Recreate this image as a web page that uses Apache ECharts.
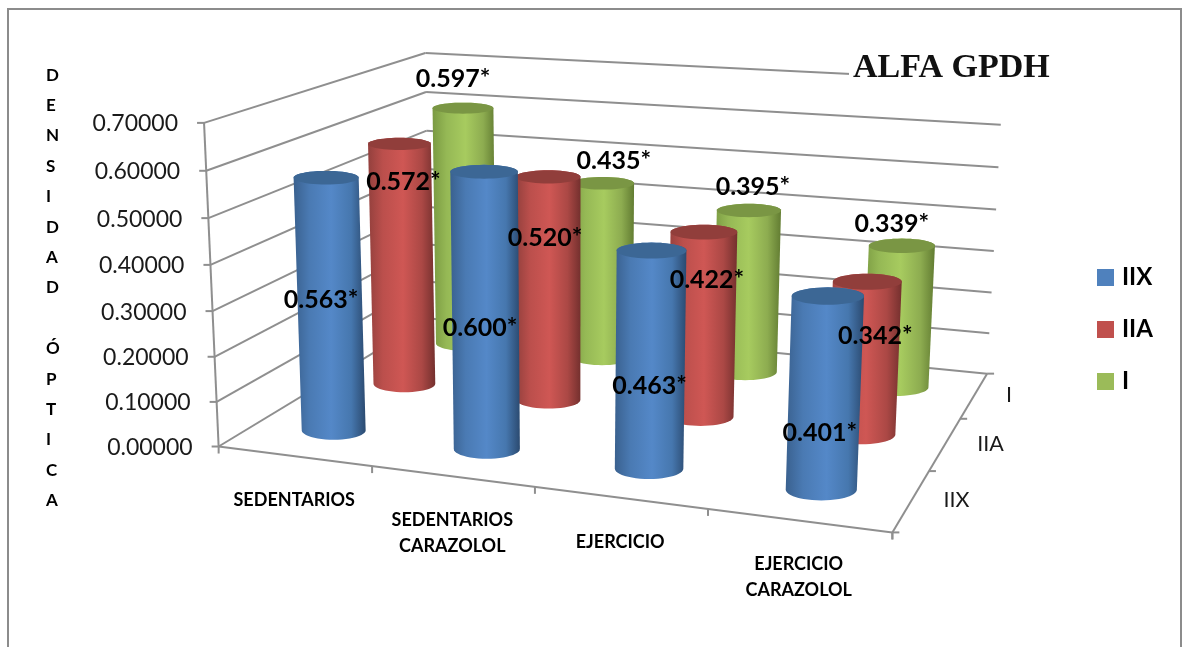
<!DOCTYPE html>
<html><head><meta charset="utf-8">
<style>html,body{margin:0;padding:0;background:#fff;overflow:hidden}#c{width:1183px;height:647px}</style>
<script src="https://cdn.jsdelivr.net/npm/echarts@6/dist/echarts.min.js"></script>
</head><body><div id="c"></div>
<script>
// ---- data ----
const categories = [['SEDENTARIOS'], ['SEDENTARIOS', 'CARAZOLOL'], ['EJERCICIO'], ['EJERCICIO', 'CARAZOLOL']];
const rows = ['IIX', 'IIA', 'I'];
const valuesIIX = [0.563, 0.600, 0.463, 0.401];
const valuesIIA = [0.572, 0.520, 0.422, 0.342];
const valuesI = [0.597, 0.435, 0.395, 0.339];
const yTicks = [0, 0.1, 0.2, 0.3, 0.4, 0.5, 0.6, 0.7];
const yTitle = 'DENSIDAD ÓPTICA';
const chartTitle = 'ALFA GPDH';

// ---- layout / style ----
const FONT = 'Lato, "Open Sans", sans-serif';
const GRID = { left: 100, top: 100, width: 800, height: 400 };
const YMAX = 0.7;
// camera calibration: [U, V, Zfraction, screenX, screenY] of the plot box's axis ticks
const Z = n => n / 7;
const CALIB = [
  [0, 0, Z(7), 202, 123], [0, 0, Z(6), 205, 171], [0, 0, Z(5), 208, 218], [0, 0, Z(4), 211, 265],
  [0, 0, Z(3), 213, 311], [0, 0, Z(2), 215, 356], [0, 0, Z(1), 218, 402], [0, 0, 0, 219, 445],
  [0, 1, Z(7), 427, 53], [0, 1, Z(6), 427, 92], [0, 1, Z(5), 427, 130], [0, 1, 0, 427, 320],
  [1, 1, Z(6), 1000, 125], [1, 1, Z(5), 998, 168], [1, 1, Z(4), 996, 209], [1, 1, Z(3), 994, 251],
  [1, 1, Z(2), 992, 292], [1, 1, Z(1), 990, 333], [1, 1, 0, 987, 373],
  [1, 0, 0, 892, 532], [0.25, 0, 0, 373, 467], [0.5, 0, 0, 535, 487], [0.75, 0, 0, 707, 510],
  [1, 1 / 3, 0, 930, 472], [1, 2 / 3, 0, 960, 418]
];
const RU = 0.21;
const DEPTH_CENTERS = [0.5, 1.5, 2.5];
const STYLES = {
  IIX: { color: '#4f81bd', top: '#3c6795', stops: ['#3a618f', '#4a7ab3', '#5488c8', '#4677ae', '#2b4a70'] },
  IIA: { color: '#c0504d', top: '#913e3b', stops: ['#93403d', '#bb4f4c', '#cf5754', '#ab4845', '#74302e'] },
  I:   { color: '#9bbb59', top: '#7a9644', stops: ['#7a9a42', '#95b855', '#a7cb5f', '#8dac50', '#627c32'] }
};
// label offset from the projected top-centre of each cylinder
const LABEL_OFFSET = {
  IIX: [[-5, 122], [-4, 156], [-2, 135], [-8, 137]],
  IIA: [[4, 38], [-3, 61], [3, 48], [8, 54]],
  I:   [[-10, -29], [11, -22], [4, -24], [-10, -22]]
};
const LINE = '#8f8f8f';

// ---- projection: least-squares pinhole camera ----
function solve(A, b) {
  const n = b.length, M = A.map((r, i) => r.concat(b[i]));
  for (let i = 0; i < n; i++) {
    let p = i;
    for (let k = i + 1; k < n; k++) if (Math.abs(M[k][i]) > Math.abs(M[p][i])) p = k;
    [M[i], M[p]] = [M[p], M[i]];
    for (let k = 0; k < n; k++) {
      if (k === i) continue;
      const f = M[k][i] / M[i][i];
      for (let j = i; j <= n; j++) M[k][j] -= f * M[i][j];
    }
  }
  return M.map((r, i) => r[n] / r[i]);
}
const dA = [], dB = [];
CALIB.forEach(([U, V, Zn, x, y]) => {
  dA.push([U, V, Zn, 1, 0, 0, 0, 0, -U * x, -V * x, -Zn * x]); dB.push(x);
  dA.push([0, 0, 0, 0, U, V, Zn, 1, -U * y, -V * y, -Zn * y]); dB.push(y);
});
const N = 11;
const AtA = [...Array(N).keys()].map(i => [...Array(N).keys()].map(j => dA.reduce((t, r) => t + r[i] * r[j], 0)));
const Atb = [...Array(N).keys()].map(i => dA.reduce((t, r, k) => t + r[i] * dB[k], 0));
const P = solve(AtA, Atb);
// u in category units (0..n), v in row units (0..m), zn = 0..1 fraction of the value axis
function project(u, v, zn) {
  const U = u / categories.length, V = v / rows.length;
  const w = P[8] * U + P[9] * V + P[10] * zn + 1;
  return [(P[0] * U + P[1] * V + P[2] * zn + P[3]) / w, (P[4] * U + P[5] * V + P[6] * zn + P[7]) / w];
}
// value -> fraction through the library's value axis
function zOf(api, val) { return (GRID.top + GRID.height - api.coord([0, val])[1]) / GRID.height; }
// category index -> band centre in category units, through the library's category axis
function uOf(api, idx) { return (api.coord([idx, 0])[0] - GRID.left) / GRID.width * categories.length; }

function hull(pts) {
  const s = pts.slice().sort((a, b) => a[0] - b[0] || a[1] - b[1]);
  const cr = (o, a, b) => (a[0] - o[0]) * (b[1] - o[1]) - (a[1] - o[1]) * (b[0] - o[0]);
  const lo = [], up = [];
  for (const p of s) { while (lo.length > 1 && cr(lo[lo.length - 2], lo[lo.length - 1], p) <= 0) lo.pop(); lo.push(p); }
  for (const p of s.slice().reverse()) { while (up.length > 1 && cr(up[up.length - 2], up[up.length - 1], p) <= 0) up.pop(); up.push(p); }
  return lo.slice(0, -1).concat(up.slice(0, -1));
}
// upright screen ellipse for a disc on the cylinder at height zn
function disc(u, v, zn) {
  const c = project(u, v, zn);
  const rxP = Math.abs(project(u + RU, v, zn)[0] - project(u - RU, v, zn)[0]) / 2;
  const rx = 33 + (rxP - 33) * 0.6;
  const rowPx = Math.abs(project(u, v + 0.5, zn)[1] - project(u, v - 0.5, zn)[1]);
  const ry = 2 + 0.15 * rowPx;
  const pts = [];
  for (let k = 0; k < 48; k++) {
    const t = k / 48 * Math.PI * 2;
    pts.push([c[0] + rx * Math.cos(t), c[1] + ry * Math.sin(t)]);
  }
  return pts;
}

function cylinderRenderer(name, rowIdx) {
  const st = STYLES[name];
  return function (params, api) {
    const i = api.value(0), val = api.value(1);
    const u = uOf(api, i), v = DEPTH_CENTERS[rowIdx], zt = zOf(api, val);
    const base = disc(u, v, 0), topE = disc(u, v, zt);
    const body = hull(base.concat(topE));
    const xs = body.map(p => p[0]);
    const x0 = Math.min(...xs), x1 = Math.max(...xs);
    const c = project(u, v, zt);
    const off = LABEL_OFFSET[name][i];
    return {
      type: 'group',
      children: [
        { type: 'polygon', shape: { points: body }, style: {
          fill: { type: 'linear', x: x0, y: 0, x2: x1, y2: 0, global: true, colorStops: [
            { offset: 0, color: st.stops[0] }, { offset: 0.22, color: st.stops[1] },
            { offset: 0.52, color: st.stops[2] }, { offset: 0.8, color: st.stops[3] }, { offset: 1, color: st.stops[4] }] } } },
        { type: 'polygon', shape: { points: topE }, style: { fill: st.top } },
        { type: 'text', z2: 100, style: {
          x: c[0] + off[0], y: c[1] + off[1], text: val.toFixed(3) + '*',
          font: 'bold 25px ' + FONT, fill: '#000', align: 'center', verticalAlign: 'middle' } }
      ]
    };
  };
}

function seg(a, b, w) {
  return { type: 'line', shape: { x1: a[0], y1: a[1], x2: b[0], y2: b[1] }, style: { stroke: LINE, lineWidth: w || 2 } };
}
const nU = categories.length, nV = rows.length;

function wallRenderer(params, api) {
  const val = api.value(1), z = zOf(api, val);
  const a = project(0, 0, z), b = project(0, nV, z), c = project(nU, nV, z);
  return { type: 'group', children: [
    seg(a, b), seg(b, c), seg([a[0] - 7, a[1]], a),
    { type: 'text', style: { x: a[0] - 26, y: a[1] + 1, text: val.toFixed(5), font: '23px ' + FONT, fill: '#1a1a1a', align: 'right', verticalAlign: 'middle' } }
  ] };
}
function catRenderer(params, api) {
  const i = api.value(0);
  const u = uOf(api, i);
  const mid = project(u, 0, 0), e = project(u + 0.5, 0, 0);
  const lines = categories[i];
  const kids = [seg(e, [e[0], e[1] + 7])];
  lines.forEach((t, k) => kids.push({ type: 'text', style: {
    x: mid[0], y: mid[1] + 44 + k * 26, text: t, font: 'bold 18px ' + FONT, fill: '#000', align: 'center', verticalAlign: 'middle' } }));
  return { type: 'group', children: kids };
}
function rowRenderer(params, api) {
  const r = api.value(0);
  const e = project(nU, r + 1, 0), m = project(nU, r + 0.5, 0);
  return { type: 'group', children: [
    seg(e, [e[0] + 7, e[1]]),
    { type: 'text', style: { x: m[0] + 32, y: m[1], text: rows[r], font: '21.5px ' + FONT, fill: '#1a1a1a', align: 'left', verticalAlign: 'middle' } }
  ] };
}
function edgeRenderer(params, api) {
  const z7 = zOf(api, YMAX);
  const p00 = project(0, 0, 0), pR = project(nU, 0, 0);
  return { type: 'group', children: [
    seg(p00, project(0, 0, z7)),
    seg(p00, pR),
    seg(pR, project(nU, nV, 0)),
    seg(p00, [p00[0], p00[1] + 7]),
    seg(pR, [pR[0], pR[1] + 7]),
    seg(pR, [pR[0] + 7, pR[1]])
  ] };
}
const helper = (name, data, renderItem) => ({ name, type: 'custom', coordinateSystem: 'cartesian2d', z: 1, silent: true, data, renderItem, encode: { x: 0, y: 1 } });
const valueSets = { IIX: valuesIIX, IIA: valuesIIA, I: valuesI };
const cylSeries = ['I', 'IIA', 'IIX'].map(name => ({
  name, type: 'custom', coordinateSystem: 'cartesian2d', z: 3,
  itemStyle: { color: STYLES[name].color }, encode: { x: 0, y: 1 },
  data: valueSets[name].map((v, i) => [i, v]),
  renderItem: cylinderRenderer(name, rows.indexOf(name))
}));

const chart = echarts.init(document.getElementById('c'), null, { renderer: 'canvas', width: 1183, height: 647 });
chart.setOption({
  animation: false,
  backgroundColor: '#fff',
  grid: GRID,
  xAxis: { type: 'category', data: categories.map(c => c.join(' ')), show: false },
  yAxis: { type: 'value', min: 0, max: YMAX, interval: 0.1, show: false },
  title: {
    text: chartTitle, left: 849, top: 45, padding: [6, 4, 6, 4], backgroundColor: '#fff', z: 6,
    textStyle: { fontFamily: '"Liberation Serif", serif', fontWeight: 'bold', fontSize: 34, color: '#111' }
  },
  legend: {
    data: rows.map(name => ({ name, icon: 'rect' })), orient: 'vertical', left: 1097, top: 265.5,
    itemWidth: 17, itemHeight: 17, itemGap: 28, selectedMode: false, padding: 0,
    textStyle: { fontFamily: FONT, fontWeight: 'bold', fontSize: 24, lineHeight: 24, color: '#000', padding: [0, 0, 0, 3] }
  },
  graphic: [
    { type: 'rect', left: 7, top: 8, z: 0, silent: true, shape: { x: 0, y: 0, width: 1173, height: 660 }, style: { fill: '#fff', stroke: '#8c8c8c', lineWidth: 2 } },
    { type: 'text', left: 54 - 8, top: 60, z: 5, silent: true, style: {
      text: yTitle.split('').join('\n'), font: 'bold 17px ' + FONT, fill: '#000', align: 'center', lineHeight: 30.4 } }
  ],
  series: [
    helper('wall', yTicks.map(t => [0, t]), wallRenderer),
    helper('edges', [[0, 0]], edgeRenderer),
    helper('cats', categories.map((c, i) => [i, 0]), catRenderer),
    helper('rowsAxis', rows.map((r, i) => [i, 0]), rowRenderer)
  ].concat(cylSeries)
});
</script></body></html>
